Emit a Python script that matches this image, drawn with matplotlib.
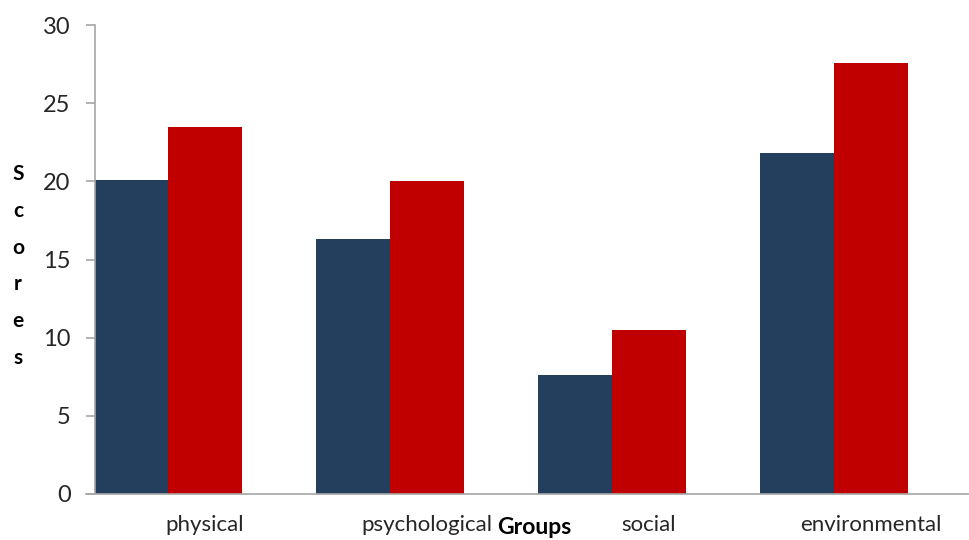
import numpy as np
import matplotlib.pyplot as plt

plt.rcParams['font.family'] = ['Lato', 'DejaVu Sans']

groups = ['physical', 'psychological', 'social', 'environmental']
series_a = [20.1, 16.3, 7.6, 21.8]
series_b = [23.5, 20.0, 10.5, 27.6]
yticks = [0, 5, 10, 15, 20, 25, 30]

fig = plt.figure(figsize=(9.7, 5.4), dpi=100)
ax = fig.add_axes([95/970, 1 - 494/540, 1 - 95/970, (494 - 25)/540])

x = np.arange(len(groups))
w = 1/3
ax.bar(x - w/2, series_a, w, color='#243F5E', edgecolor='none')
ax.bar(x + w/2, series_b, w, color='#C00000', edgecolor='none')

ax.set_xlim(-73/222, 802/222)
ax.set_ylim(0, 30)
ax.set_yticks(yticks)
ax.set_xticks(x + w/2)
ax.set_xticklabels(groups)

for s in ['top', 'right']:
    ax.spines[s].set_visible(False)
for s in ['left', 'bottom']:
    ax.spines[s].set_color('#A6A6A6')
    ax.spines[s].set_linewidth(1.2)

ax.tick_params(axis='y', length=6.5, width=1.2, color='#A6A6A6', labelsize=17,
               labelcolor='#262626', pad=11)
ax.tick_params(axis='x', length=0, labelsize=16, labelcolor='#262626', pad=15)

# bottom spine also extends left like the tick
ax.plot([-9/875, 0], [0, 0], transform=ax.transAxes, color='#A6A6A6', lw=1.2, clip_on=False)

fig.text(18/970, 1 - 266/540, 'S\nc\no\nr\ne\ns', ha='center', va='center',
         fontsize=15, fontweight='bold', linespacing=2.05, color='black')
fig.text(534/970, 1 - 528/540, 'Groups', ha='center', va='center',
         fontsize=16.5, fontweight='bold', color='black')

fig.savefig('out.png', dpi=100)
